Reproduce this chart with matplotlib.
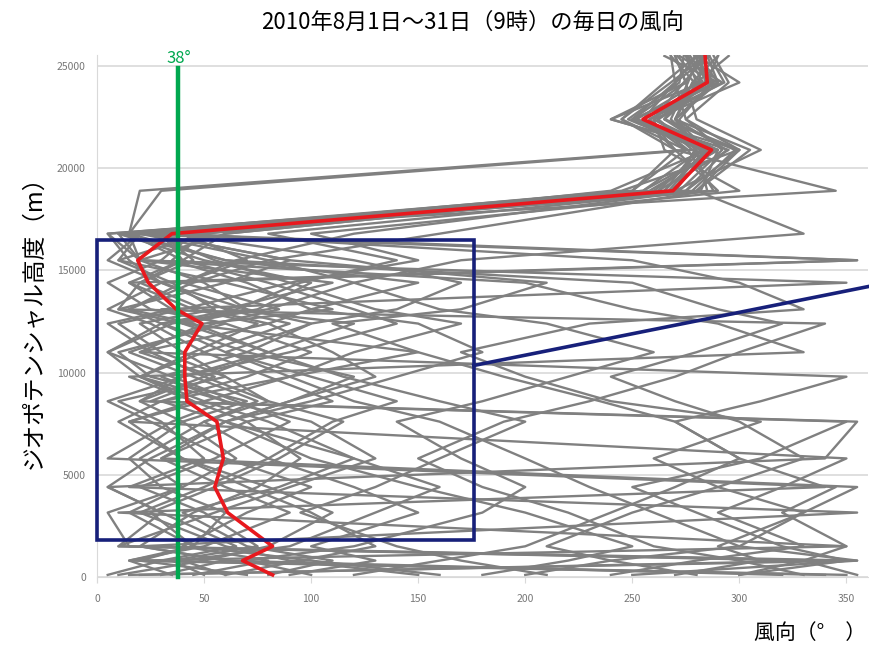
import matplotlib.pyplot as plt
import matplotlib.patches as patches

plt.rcParams['font.family'] = ['Noto Sans CJK JP', 'DejaVu Sans']

# geopotential heights (m) of the levels used for every profile
heights = [100, 800, 1500, 3150, 4400, 5800, 7600, 8600, 9800, 11000,
           12400, 13100, 14400, 15500, 16800, 18900, 20900, 22400, 24200, 25500]

# daily wind direction (deg) at 9h, Aug 1 - Aug 31 2010
d01 = [350, 20, 45, 60, 30, 15, 40, 70, 25, 10, 60, 30, 350, 20, 10, 270, 285, 260, 280, 275]
d02 = [80, 110, 70, 40, 85, 120, 60, 30, 90, 150, 40, 10, 60, 90, 25, 255, 290, 240, 275, 270]
d03 = [200, 240, 300, 330, 290, 260, 310, 240, 200, 170, 230, 330, 300, 250, 40, 265, 280, 270, 290, 265]
d04 = [20, 340, 10, 30, 5, 25, 60, 90, 130, 110, 80, 100, 150, 60, 15, 20, 275, 255, 270, 280]
d05 = [150, 90, 60, 20, 50, 80, 110, 140, 100, 60, 30, 80, 120, 170, 330, 280, 300, 265, 285, 290]
d06 = [300, 350, 320, 280, 250, 310, 350, 20, 40, 80, 120, 60, 30, 355, 10, 250, 275, 245, 265, 280]
d07 = [60, 40, 90, 130, 160, 120, 80, 50, 20, 5, 35, 70, 50, 20, 60, 262, 295, 250, 275, 270]
d08 = [330, 300, 260, 220, 180, 150, 190, 230, 270, 300, 340, 10, 20, 40, 30, 290, 270, 255, 290, 285]
d09 = [30, 60, 20, 355, 15, 50, 30, 10, 60, 40, 20, 55, 35, 10, 50, 240, 285, 270, 280, 295]
d10 = [100, 70, 120, 180, 200, 170, 140, 180, 220, 260, 210, 160, 120, 80, 20, 275, 300, 275, 270, 268]
d11 = [250, 355, 15, 5, 40, 20, 50, 80, 60, 30, 10, 40, 90, 150, 100, 300, 265, 260, 300, 280]
d12 = [10, 50, 80, 110, 80, 40, 10, 30, 70, 100, 60, 25, 5, 30, 45, 258, 290, 240, 283, 276]
d13 = [355, 330, 350, 10, 340, 300, 270, 310, 350, 20, 50, 110, 60, 10, 20, 270, 310, 280, 275, 283]
d14 = [180, 220, 250, 200, 150, 100, 60, 90, 120, 70, 30, 15, 45, 80, 160, 285, 280, 262, 292, 272]
d15 = [70, 20, 350, 320, 345, 5, 35, 60, 30, 70, 100, 140, 170, 120, 35, 268, 288, 250, 270, 286]
d16 = [280, 240, 210, 250, 290, 330, 300, 270, 240, 280, 320, 290, 250, 60, 10, 345, 270, 258, 288, 279]
d17 = [45, 80, 40, 70, 100, 60, 25, 5, 40, 90, 140, 120, 80, 40, 60, 262, 283, 268, 276, 281]
d18 = [320, 60, 20, 45, 75, 95, 70, 45, 20, 50, 25, 5, 30, 15, 5, 278, 298, 265, 282, 271]
d19 = [120, 160, 200, 240, 270, 300, 270, 235, 190, 150, 110, 170, 210, 90, 25, 250, 270, 245, 268, 284]
d20 = [5, 30, 65, 30, 5, 340, 355, 25, 55, 20, 80, 50, 20, 45, 30, 272, 292, 275, 295, 288]
d21 = [240, 280, 330, 290, 320, 350, 15, 45, 15, 330, 290, 250, 200, 20, 5, 265, 285, 255, 286, 277]
d22 = [90, 130, 100, 150, 120, 80, 50, 75, 45, 15, 55, 85, 40, 65, 120, 280, 305, 270, 278, 290]
d23 = [35, 15, 50, 90, 60, 30, 70, 110, 80, 50, 90, 60, 110, 20, 15, 30, 278, 262, 284, 282]
d24 = [270, 310, 290, 330, 355, 30, 60, 100, 140, 180, 150, 100, 70, 35, 50, 255, 282, 248, 272, 274]
d25 = [60, 95, 130, 100, 70, 40, 15, 50, 90, 120, 170, 130, 90, 55, 25, 275, 294, 270, 288, 279]
d26 = [340, 15, 45, 25, 55, 85, 115, 80, 50, 25, 5, 35, 15, 355, 30, 288, 276, 258, 293, 286]
d27 = [160, 100, 45, 15, 40, 65, 40, 20, 50, 80, 45, 15, 40, 70, 40, 260, 287, 265, 279, 268]
d28 = [15, 355, 300, 260, 230, 200, 160, 120, 90, 60, 100, 70, 30, 5, 20, 245, 300, 252, 281, 283]
d29 = [210, 170, 140, 95, 130, 160, 200, 160, 115, 80, 40, 75, 100, 50, 10, 270, 279, 272, 287, 275]
d30 = [50, 35, 75, 50, 20, 55, 90, 65, 35, 5, 30, 65, 95, 140, 80, 282, 290, 260, 274, 285]
d31 = [300, 330, 10, 55, 90, 130, 100, 60, 20, 45, 75, 45, 15, 40, 15, 267, 284, 250, 290, 281]

days = [d01, d02, d03, d04, d05, d06, d07, d08, d09, d10, d11, d12, d13, d14, d15, d16,
        d17, d18, d19, d20, d21, d22, d23, d24, d25, d26, d27, d28, d29, d30, d31]

# mean profile (red)
mean_dir = [82, 68, 82, 61, 55, 59, 56, 42, 41, 41, 49, 37, 24, 19, 35, 269, 287, 255, 285, 284]

ref_dir = 38
box_x = (0, 176)
box_y = (1800, 16500)
pointer = ([176, 362], [10350, 14250])

fig = plt.figure(figsize=(8.7, 6.46), dpi=100)
ax = fig.add_axes([0.1115, 0.099, 0.886, 0.816])

for d in days:
    ax.plot(d, heights, color='#808080', lw=1.7, zorder=2)
ax.plot(mean_dir, heights, color='#e8191e', lw=2.6, zorder=4)

ax.plot([ref_dir, ref_dir], [0, 24900], color='#00a84f', lw=3.2, zorder=5)
ax.text(ref_dir, 24950, '38°', color='#00a84f', fontsize=12, ha='center', va='bottom')

rect = patches.Rectangle((box_x[0], box_y[0]), box_x[1] - box_x[0], box_y[1] - box_y[0],
                         fill=False, ec='#17207a', lw=2.6, zorder=6, clip_on=False)
ax.add_patch(rect)
ax.plot(pointer[0], pointer[1], color='#17207a', lw=2.6, zorder=6, clip_on=False)

ax.set_xlim(0, 360)
ax.set_ylim(-250, 25550)
ax.set_xticks(range(0, 351, 50))
ax.set_yticks(range(0, 25001, 5000))
ax.yaxis.grid(True, color='#d9d9d9', lw=1.2, zorder=0)
ax.set_axisbelow(True)
for s in ['top', 'right']:
    ax.spines[s].set_visible(False)
ax.spines['left'].set_color('#d9d9d9')
ax.spines['bottom'].set_color('#d9d9d9')
ax.spines['bottom'].set_position(('data', 0))
ax.tick_params(axis='x', colors='#d9d9d9', labelcolor='#777777', labelsize=7.5, length=4, pad=8)
ax.tick_params(axis='y', length=0, labelcolor='#777777', labelsize=7.5, pad=8)

fig.text(0.543, 0.965, '2010年8月1日～31日（9時）の毎日の風向', ha='center', va='center', fontsize=16)
fig.text(0.039, 0.51, 'ジオポテンシャル高度（m）', rotation=90, ha='center', va='center', fontsize=17)
fig.text(0.996, 0.02, '風向（°　）', ha='right', va='center', fontsize=15)

plt.savefig('out.png', dpi=100)
